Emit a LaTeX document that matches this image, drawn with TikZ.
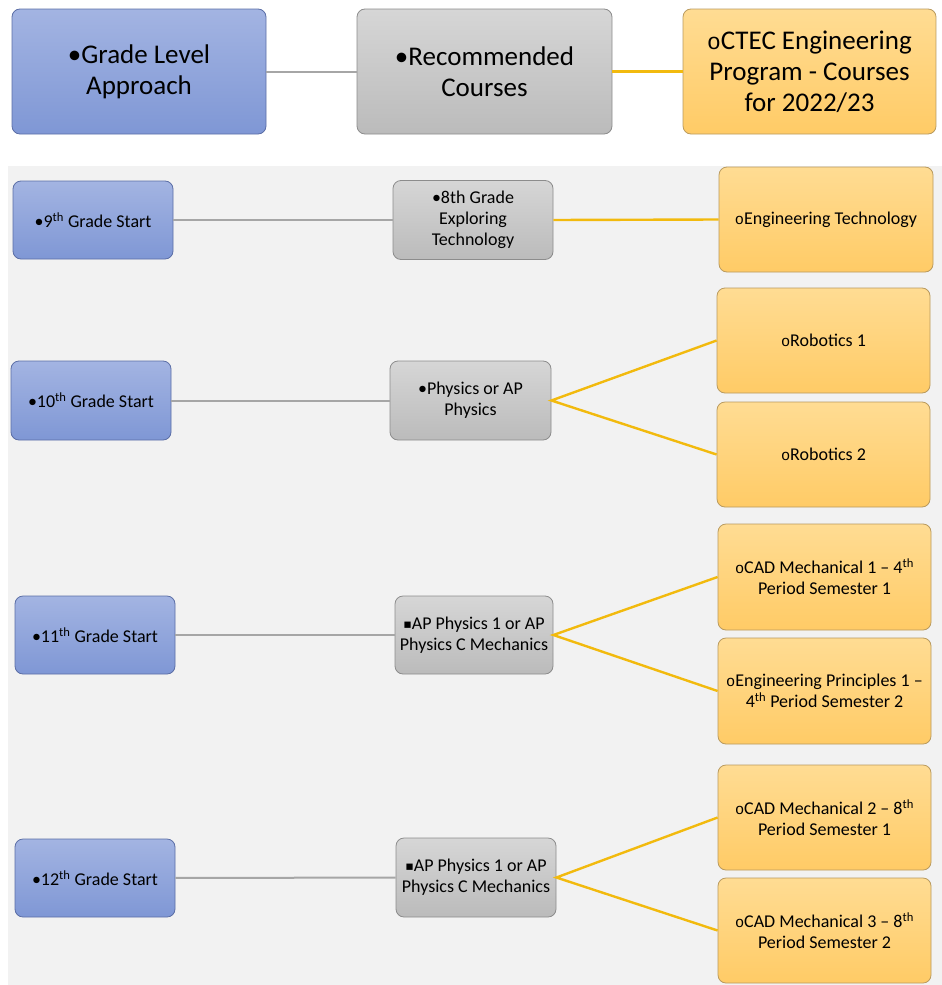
\documentclass[tikz,border=0pt]{standalone}
\usepackage{fontspec}
\setmainfont{Carlito}
\newfontfamily\monofnt{Liberation Mono}
\newfontfamily\dvfnt{DejaVu Sans}
\newcommand{\bl}{•}
\newcommand{\cb}{\scalebox{0.85}{\monofnt o}}
\newcommand{\sqb}{\raisebox{0.05em}{\scalebox{0.7}{\dvfnt ▪}}}
\definecolor{bgc}{HTML}{F2F2F2}
\definecolor{blueT}{HTML}{A3B4E2}
\definecolor{blueBot}{HTML}{7F97D5}
\definecolor{blueD}{HTML}{5B6EA6}
\definecolor{grayT}{HTML}{D6D6D6}
\definecolor{grayBot}{HTML}{BBBBBB}
\definecolor{grayD}{HTML}{8C8C8C}
\definecolor{orT}{HTML}{FFDC93}
\definecolor{orBot}{HTML}{FFCB66}
\definecolor{orD}{HTML}{B99A5E}
\definecolor{lineG}{HTML}{A6A6A6}
\definecolor{lineO}{HTML}{F2BA0E}
\begin{document}
\begin{tikzpicture}[x=1pt,y=-1pt,
  box/.style={rectangle, rounded corners=8pt, align=center, inner sep=2pt, line width=0.8pt},
  bluebox/.style={box, draw=blueD, top color=blueT, bottom color=blueBot},
  graybox/.style={box, draw=grayD, top color=grayT, bottom color=grayBot},
  orbox/.style={box, draw=orD, top color=orT, bottom color=orBot},
  bigtxt/.style={font=\fontsize{27}{31}\selectfont},
  smtxt/.style={font=\fontsize{18}{21}\selectfont},
  glink/.style={draw=lineG, line width=2pt},
  olink/.style={draw=lineO, line width=2.4pt}]
\useasboundingbox (0,0) rectangle (942,985);
\fill[bgc] (8,166) rectangle (942,985);

% top row
\node[bluebox, bigtxt, minimum width=254pt, minimum height=125pt] (hb) at (139,71.5) {\bl Grade Level\\Approach};
\node[graybox, bigtxt, minimum width=255pt, minimum height=125pt] (hg) at (484.5,71.5) {\bl Recommended\\Courses};
\node[orbox, bigtxt, minimum width=253pt, minimum height=125pt] (ho) at (809.5,71.5) {\cb CTEC Engineering\\Program - Courses\\for 2022/23};
\draw[glink] (hb) -- (hg);
\draw[olink] (hg) -- (ho);

% 9th
\node[bluebox, smtxt, minimum width=160pt, minimum height=78pt] (b9) at (93,220) {\bl 9\textsuperscript{th} Grade Start};
\node[graybox, smtxt, minimum width=160pt, minimum height=79pt] (g9) at (473,220) {\bl 8th Grade\\Exploring\\Technology};
\node[orbox, smtxt, minimum width=214pt, minimum height=105pt] (o9) at (826,219.5) {\cb Engineering Technology};
\draw[glink] (b9) -- (g9);
\draw[olink] (g9.east) -- (o9.west);

% 10th
\node[bluebox, smtxt, minimum width=160pt, minimum height=79pt] (b10) at (91,400.5) {\bl 10\textsuperscript{th} Grade Start};
\node[graybox, smtxt, minimum width=161pt, minimum height=79pt] (g10) at (470.5,400.5) {\bl Physics or AP\\Physics};
\node[orbox, smtxt, minimum width=213pt, minimum height=105pt] (r1) at (823.5,340.5) {\cb Robotics 1};
\node[orbox, smtxt, minimum width=213pt, minimum height=105pt] (r2) at (823.5,454.5) {\cb Robotics 2};
\draw[glink] (b10) -- (g10);
\draw[olink] (r1.west) -- (g10.east) -- (r2.west);

% 11th
\node[bluebox, smtxt, minimum width=160pt, minimum height=78pt] (b11) at (95,635) {\bl 11\textsuperscript{th} Grade Start};
\node[graybox, smtxt, minimum width=158pt, minimum height=78pt] (g11) at (474,635) {\sqb AP Physics 1 or AP\\Physics C Mechanics};
\node[orbox, smtxt, minimum width=213pt, minimum height=106pt] (c1) at (824.5,577) {\cb CAD Mechanical 1 -- 4\textsuperscript{th}\\Period Semester 1};
\node[orbox, smtxt, minimum width=213pt, minimum height=106pt] (ep) at (824.5,691) {\cb Engineering Principles 1 --\\4\textsuperscript{th} Period Semester 2};
\draw[glink] (b11) -- (g11);
\draw[olink] (c1.west) -- (g11.east) -- (ep.west);

% 12th
\node[bluebox, smtxt, minimum width=160pt, minimum height=78pt] (b12) at (95,878) {\bl 12\textsuperscript{th} Grade Start};
\node[graybox, smtxt, minimum width=160pt, minimum height=79pt] (g12) at (476,877.5) {\sqb AP Physics 1 or AP\\Physics C Mechanics};
\node[orbox, smtxt, minimum width=213pt, minimum height=105pt] (c2) at (824.5,817.5) {\cb CAD Mechanical 2 -- 8\textsuperscript{th}\\Period Semester 1};
\node[orbox, smtxt, minimum width=213pt, minimum height=105pt] (c3) at (824.5,930.5) {\cb CAD Mechanical 3 -- 8\textsuperscript{th}\\Period Semester 2};
\draw[glink] (b12) -- (g12);
\draw[olink] (c2.west) -- (g12.east) -- (c3.west);
\end{tikzpicture}
\end{document}
